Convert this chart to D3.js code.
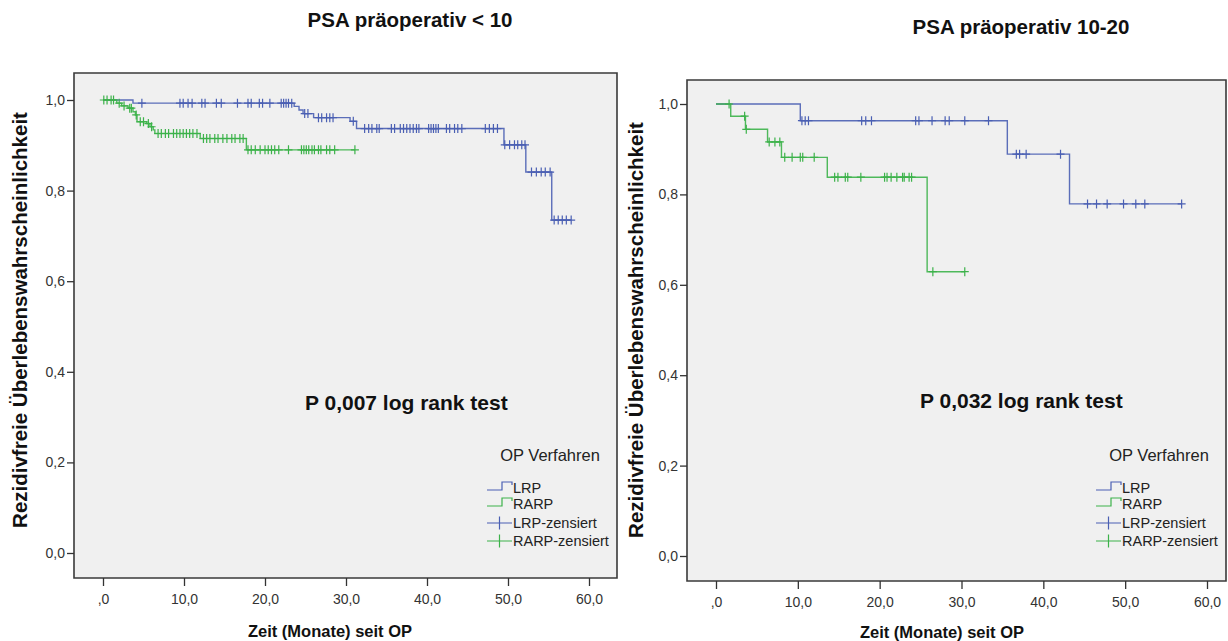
<!DOCTYPE html>
<html>
<head>
<meta charset="utf-8">
<script src="https://cdn.jsdelivr.net/npm/d3@7"></script>
<style>
  html, body { margin: 0; padding: 0; background: #ffffff; }
  svg { display: block; font-family: "Liberation Sans", Arial, sans-serif; }
</style>
</head>
<body>
<svg id="chart" width="1228" height="641"></svg>
<script>
// Kaplan-Meier: rezidivfreies Überleben nach OP-Verfahren, getrennt nach PSA präoperativ

const groups = ["LRP", "RARP"];
const legendLabels = ["LRP", "RARP", "LRP-zensiert", "RARP-zensiert"];
const xTicks = [0, 10, 20, 30, 40, 50, 60];
const yTicks = [0, 0.2, 0.4, 0.6, 0.8, 1.0];

// PSA < 10: Stufen [Zeit in Monaten, Überlebenswahrscheinlichkeit nach dem Ereignis]
const low_LRP_steps = [[0, 1.0], [3.7, 0.993], [23.6, 0.986], [24.2, 0.978], [24.7, 0.970],
  [26.0, 0.961], [30.5, 0.953], [31.3, 0.937], [49.5, 0.901], [52.2, 0.841], [55.4, 0.735]];
const low_LRP_censored = [4.8, 9.5, 9.9, 10.5, 11.0, 12.2, 12.6, 14.0, 14.6, 16.6, 17.9, 18.3,
  19.3, 19.7, 20.6, 22.0, 22.3, 22.6, 22.9, 23.3, 24.9, 25.3, 26.6, 27.0, 27.6, 28.0, 28.4,
  30.9, 32.3, 32.8, 33.2, 33.8, 34.1, 35.6, 36.0, 36.7, 37.1, 37.5, 37.9, 38.3, 38.7, 39.0,
  40.2, 40.5, 40.8, 41.1, 41.4, 42.4, 42.8, 43.4, 43.8, 44.3, 47.2, 47.7, 48.2, 48.7, 49.6,
  50.2, 50.8, 51.2, 51.7, 52.1, 52.9, 53.5, 54.1, 54.6, 55.2, 55.7, 56.2, 56.7, 57.2, 57.8];
const low_RARP_steps = [[0, 1.0], [1.7, 0.993], [2.3, 0.987], [3.1, 0.982], [3.7, 0.974],
  [4.0, 0.967], [4.2, 0.952], [5.4, 0.948], [5.8, 0.941], [6.2, 0.934], [6.4, 0.926],
  [12.0, 0.915], [17.7, 0.890]];
const low_RARP_censored = [0.1, 0.5, 1.0, 1.3, 2.0, 2.6, 3.3, 3.5, 4.1, 4.6, 5.0, 5.6, 6.0,
  6.8, 7.2, 7.7, 8.1, 8.7, 9.1, 9.5, 9.9, 10.3, 10.7, 11.1, 11.6, 12.4, 12.8, 13.2, 13.8,
  14.2, 14.8, 15.3, 15.9, 16.3, 16.9, 17.3, 17.9, 18.3, 18.8, 19.4, 20.0, 20.4, 20.8, 21.2,
  21.7, 22.9, 24.5, 24.8, 25.1, 25.4, 25.8, 26.1, 26.6, 26.9, 27.6, 28.0, 28.6, 31.1];

// PSA 10-20
const mid_LRP_steps = [[0, 1.0], [10.3, 0.963], [35.6, 0.889], [43.2, 0.779]];
const mid_LRP_censored = [10.5, 10.9, 11.3, 17.8, 18.3, 19.0, 24.4, 24.8, 26.4, 28.0, 28.5,
  30.4, 33.3, 36.7, 37.1, 37.9, 42.1, 45.4, 46.5, 47.8, 49.8, 51.3, 52.4, 56.9];
const mid_RARP_steps = [[0, 1.0], [1.8, 0.973], [3.6, 0.944], [6.3, 0.916], [8.0, 0.882],
  [13.6, 0.838], [25.8, 0.629]];
const mid_RARP_censored = [1.6, 3.5, 3.7, 6.5, 7.2, 7.8, 8.4, 9.3, 10.3, 10.6, 12.0, 14.5,
  14.9, 15.8, 16.1, 17.7, 20.6, 20.9, 21.4, 22.1, 22.8, 23.0, 23.6, 23.9, 26.5, 30.4];

const titles = ["PSA präoperativ < 10", "PSA präoperativ 10-20"];
const pTexts = ["P 0,007 log rank test", "P 0,032 log rank test"];
const xTitle = "Zeit (Monate) seit OP";
const yTitle = "Rezidivfreie Überlebenswahrscheinlichkeit";
const legendTitle = "OP Verfahren";

const colors = { LRP: "#4a5fb3", RARP: "#3cb24a" };
const font = '"Liberation Sans", Arial, sans-serif';

const svg = d3.select("#chart");

function levelAt(steps, t) {
  let s = steps[0][1];
  for (const [ts, v] of steps) if (ts <= t) s = v;
  return s;
}

function drawPanel(p) {
  const x = d3.scaleLinear().domain([0, 60]).range(p.xRange);
  const y = d3.scaleLinear().domain([0, 1]).range(p.yRange);
  const [fl, ft, fr, fb] = p.frame;
  const g = svg.append("g");

  g.append("rect")
    .attr("x", fl).attr("y", ft)
    .attr("width", fr - fl).attr("height", fb - ft)
    .attr("fill", "#f0f0f0");

  // survival curves
  p.series.forEach(s => {
    const end = s.censored[s.censored.length - 1];
    const pts = s.steps.concat([[end, s.steps[s.steps.length - 1][1]]]);
    const line = d3.line().x(d => x(d[0])).y(d => y(d[1])).curve(d3.curveStepAfter);
    g.append("path")
      .attr("d", line(pts))
      .attr("fill", "none")
      .attr("stroke", colors[s.name])
      .attr("stroke-width", 1.4)
      .attr("stroke-opacity", 0.9);
    g.append("g").selectAll("path")
      .data(s.censored)
      .join("path")
      .attr("transform", d => `translate(${x(d)},${y(levelAt(s.steps, d))})`)
      .attr("d", "M-4,0H4M0,-4.5V4.5")
      .attr("stroke", colors[s.name])
      .attr("stroke-width", 1.2)
      .attr("fill", "none");
  });

  // frame
  g.append("path")
    .attr("d", `M${fl},${ft}H${fr}V${fb}H${fl}Z`)
    .attr("fill", "none")
    .attr("stroke", "#3a3a3a")
    .attr("stroke-width", 1.6);

  // axes
  const yAxis = d3.axisLeft(y).tickValues(yTicks).tickSize(7).tickPadding(2)
    .tickFormat(d => d.toFixed(1).replace(".", ","));
  const ya = g.append("g").attr("transform", `translate(${fl},0)`).call(yAxis);
  const xAxis = d3.axisBottom(x).tickValues(xTicks).tickSize(8).tickPadding(8)
    .tickFormat(d => d === 0 ? ",0" : d.toFixed(1).replace(".", ","));
  const xa = g.append("g").attr("transform", `translate(0,${fb})`).call(xAxis);
  [ya, xa].forEach(a => {
    a.select(".domain").remove();
    a.selectAll(".tick line").attr("stroke", "#333").attr("stroke-width", 1.3);
    a.selectAll(".tick text").attr("fill", "#333").style("font-size", "14px").style("font-family", font);
  });

  // titles
  g.append("text")
    .attr("x", p.titlePos[0]).attr("y", p.titlePos[1])
    .attr("text-anchor", "middle")
    .style("font-size", "20.5px").style("font-weight", "bold").style("font-family", font)
    .attr("fill", "#111")
    .text(p.title);
  g.append("text")
    .attr("x", p.xTitlePos[0]).attr("y", p.xTitlePos[1])
    .attr("text-anchor", "middle")
    .style("font-size", "16.5px").style("font-weight", "bold").style("font-family", font)
    .attr("fill", "#111")
    .text(xTitle);
  g.append("text")
    .attr("transform", `translate(${p.yTitlePos[0]},${p.yTitlePos[1]}) rotate(-90)`)
    .attr("text-anchor", "middle")
    .style("font-size", "20.5px").style("font-weight", "bold").style("font-family", font)
    .attr("fill", "#111")
    .text(yTitle);
  g.append("text")
    .attr("x", p.pPos[0]).attr("y", p.pPos[1])
    .style("font-size", "21px").style("font-weight", "bold").style("font-family", font)
    .attr("fill", "#111")
    .text(p.pText);

  // legend
  const [lx, ly] = p.legendPos;
  g.append("text")
    .attr("x", lx + 63).attr("y", ly)
    .attr("text-anchor", "middle")
    .style("font-size", "16.5px").style("font-family", font)
    .attr("fill", "#222")
    .text(legendTitle);
  const rowY = [27, 43, 62, 80];
  legendLabels.forEach((lab, i) => {
    const name = groups[i % 2];
    const ry = ly + rowY[i];
    if (i < 2) {
      g.append("path")
        .attr("d", `M${lx},${ry + 2}H${lx + 15}V${ry - 6}H${lx + 25}V${ry - 3}`)
        .attr("fill", "none").attr("stroke", colors[name]).attr("stroke-width", 1.2);
    } else {
      g.append("path")
        .attr("d", `M${lx},${ry}H${lx + 25}M${lx + 12.5},${ry - 6.5}V${ry + 6.5}`)
        .attr("fill", "none").attr("stroke", colors[name]).attr("stroke-width", 1.2);
    }
    g.append("text")
      .attr("x", lx + 26).attr("y", ry + 5)
      .style("font-size", "14.5px").style("font-family", font)
      .attr("fill", "#222")
      .text(lab);
  });
}

drawPanel({
  title: titles[0], pText: pTexts[0],
  xRange: [103, 589], yRange: [553, 100],
  frame: [74, 73, 617, 578],
  titlePos: [410, 27], xTitlePos: [330, 637], yTitlePos: [27, 320],
  pPos: [305, 410], legendPos: [487, 461],
  series: [
    { name: "LRP", steps: low_LRP_steps, censored: low_LRP_censored },
    { name: "RARP", steps: low_RARP_steps, censored: low_RARP_censored }
  ]
});

drawPanel({
  title: titles[1], pText: pTexts[1],
  xRange: [716, 1207], yRange: [556, 104],
  frame: [687, 80, 1226, 581],
  titlePos: [1021, 34], xTitlePos: [942, 638], yTitlePos: [643, 330],
  pPos: [920, 408], legendPos: [1096, 461],
  series: [
    { name: "LRP", steps: mid_LRP_steps, censored: mid_LRP_censored },
    { name: "RARP", steps: mid_RARP_steps, censored: mid_RARP_censored }
  ]
});
</script>
</body>
</html>
